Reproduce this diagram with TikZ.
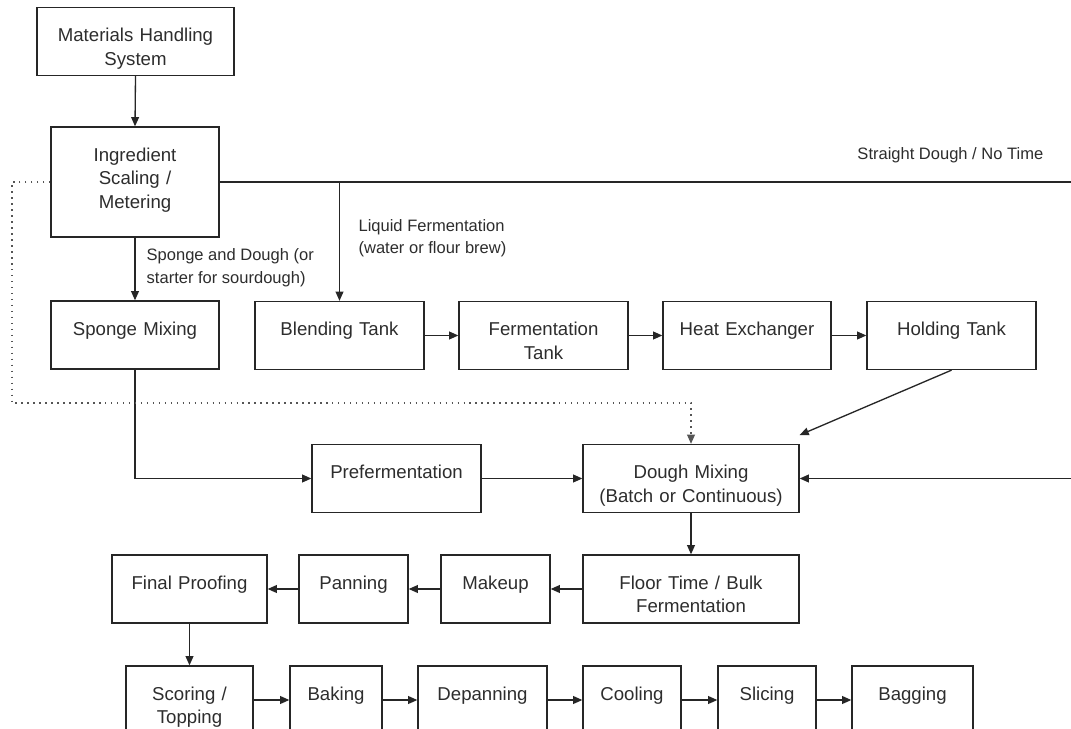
\documentclass[tikz,border=0pt]{standalone}
\usepackage{fontspec}
\setmainfont{Liberation Sans}
\usepackage{tikz}
\usetikzlibrary{arrows.meta,positioning,calc}
\usepackage{xcolor}
\definecolor{inkline}{RGB}{38,38,38}
\definecolor{inktext}{RGB}{45,45,45}
\definecolor{dotline}{RGB}{85,85,85}
\tikzset{
  stage/.style={draw=inkline,line width=.75pt,inner sep=0pt,align=center,
                text=inktext,text width=#1,text height=19.4pt,text depth=19.3pt,
                font=\fontsize{10.6}{13.4}\selectfont},
  tallstage/.style={stage=#1,text depth=43.2pt},
  flow/.style={-{Triangle[length=5.2pt,width=4.4pt]},draw=inkline,line width=.75pt},
  dotflow/.style={flow,draw=dotline,dash pattern=on .8pt off 2.6pt},
  route/.style={font=\fontsize{9.4}{12.8}\selectfont,text=inktext,align=left,
                inner sep=0pt},
}
\begin{document}
\begin{tikzpicture}[x=0.02cm,y=-0.02cm]
  \useasboundingbox (0,0) rectangle (1071,729);
  \fill[white] (0,0) rectangle (1071,729);
  \clip (0,0) rectangle (1071,729);
  \node[stage=3.94cm] (mhs) at (135.5,41.5) {Materials Handling\\System};
  \node[tallstage=3.36cm] (ing) at (135,182) {Ingredient\\Scaling /\\Metering};
  \node[stage=3.36cm] (spmix) at (135,335) {Sponge Mixing};
  \node[stage=3.38cm] (blend) at (339.5,335.5) {Blending Tank};
  \node[stage=3.38cm] (fermtank) at (543.5,335.5) {Fermentation\\Tank};
  \node[stage=3.36cm] (heatx) at (747,335.5) {Heat Exchanger};
  \node[stage=3.38cm] (hold) at (951.5,335.5) {Holding Tank};
  \node[stage=3.38cm] (preferm) at (396.5,478.5) {Prefermentation};
  \node[stage=4.32cm] (dmix) at (691,478.5) {Dough Mixing\\(Batch or Continuous)};
  \node[stage=4.32cm] (floor) at (691,589) {Floor Time / Bulk\\Fermentation};
  \node[stage=2.18cm] (makeup) at (495.5,589) {Makeup};
  \node[stage=2.18cm] (pan) at (353.5,589) {Panning};
  \node[stage=3.10cm] (proof) at (189.5,589) {Final Proofing};
  \node[stage=2.54cm] (score) at (189.5,700) {Scoring /\\Topping};
  \node[stage=1.84cm] (bake) at (336,700) {Baking};
  \node[stage=2.58cm] (depan) at (482.5,700) {Depanning};
  \node[stage=1.96cm] (cool) at (632,700) {Cooling};
  \node[stage=1.96cm] (slice) at (767,700) {Slicing};
  \node[stage=2.42cm] (bag) at (912.5,700) {Bagging};
  \coordinate (sdturn) at (1100,182);
  \coordinate (lfsplit) at (ing.east -| blend.north);
  \coordinate (dotcorner) at (12,403);
  \draw[flow] (mhs.south) -- (ing.north);
  \draw[flow] (ing) -- node[route,pos=.48,anchor=west,xshift=6.3pt]
    {Sponge and Dough (or\\starter for sourdough)} (spmix);
  \draw[flow] (ing.east) -- node[route,pos=.83,anchor=base,yshift=13pt]
    {Straight Dough / No Time} (sdturn) |- (dmix.east);
  \draw[flow] (lfsplit) -- node[route,pos=.475,anchor=west,xshift=10.5pt]
    {Liquid Fermentation\\(water or flour brew)} (blend.north);
  \foreach \s/\t in {blend/fermtank,fermtank/heatx,heatx/hold,preferm/dmix,
    floor/makeup,makeup/pan,pan/proof,score/bake,bake/depan,depan/cool,
    cool/slice,slice/bag}{\draw[flow] (\s) -- (\t);}
  \draw[flow] (dmix) -- (floor);
  \draw[flow] (proof) -- (score);
  \draw[flow] (spmix.south) |- (preferm.west);
  \draw[flow] (hold.south) -- ([yshift=5pt]dmix.north east);
  \draw[dotflow] (ing.west) -| (dotcorner) -| (dmix.north);
\end{tikzpicture}
\end{document}
